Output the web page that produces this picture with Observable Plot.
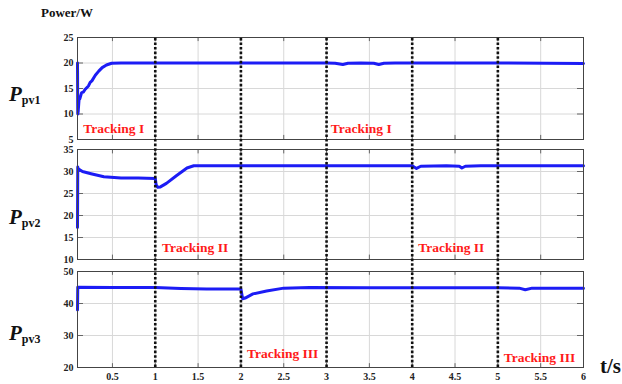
<!DOCTYPE html>
<html><head><meta charset="utf-8">
<script src="https://cdn.jsdelivr.net/npm/d3@7"></script>
<script src="https://cdn.jsdelivr.net/npm/@observablehq/plot@0.6"></script>
<style>
body{margin:0;background:#fff;}
#wrap{position:relative;width:622px;height:384px;overflow:hidden;font-family:"Liberation Serif",serif;}
.abs{position:absolute;left:0;}
.lbl{position:absolute;font-weight:bold;color:#111;white-space:nowrap;}
.plab{position:absolute;font-weight:bold;color:#111;white-space:nowrap;font-size:21px;}
.plab i{font-style:italic;}
.plab sub{font-size:12px;font-style:normal;vertical-align:-3px;}
</style></head>
<body><div id="wrap"></div>
<script>
// ---- data ----
const t1 = [0.092,0.095,0.10,0.11,0.12,0.14,0.16,0.18,0.22,0.24,0.26,0.30,0.34,0.38,0.43,0.49,0.6,1.0,2.0,3.0,3.1,3.19,3.25,3.4,3.55,3.61,3.67,3.8,3.95,4.0,5.0,6.0];
const p1 = [20,10,10.5,12.8,13,14.2,14.3,14.8,15.5,16.2,16.5,17.6,18.4,19.1,19.6,19.95,20,20,20,20,19.95,19.7,19.95,20,19.95,19.7,19.95,20,20,20,20,19.9];
const t2 = [0.092,0.095,0.10,0.15,0.25,0.4,0.6,0.8,1.0,1.01,1.03,1.06,1.13,1.25,1.37,1.45,2,3,4.0,4.05,4.1,4.4,4.55,4.58,4.62,4.8,5,6];
const p2 = [17.3,31,30.6,30,29.5,28.8,28.5,28.5,28.4,27,26.4,26.5,27.3,29.1,30.8,31.3,31.3,31.3,31.3,30.7,31.2,31.3,31.2,30.8,31.2,31.3,31.3,31.3];
const t3 = [0.092,0.095,0.10,0.5,1.0,1.3,1.6,2.0,2.02,2.05,2.14,2.3,2.5,2.8,3.5,4.0,5.0,5.25,5.32,5.4,6];
const p3 = [38,45.1,45.1,45,45,44.7,44.5,44.5,41.5,41.7,43,43.9,44.8,45,44.9,44.9,44.9,44.8,44.3,44.8,44.8];
const xTicks = [0.5,1,1.5,2,2.5,3,3.5,4,4.5,5,5.5,6];
const yTicks1 = [5,10,15,20,25];
const yTicks2 = [10,15,20,25,30,35];
const yTicks3 = [20,30,40,50];
const switchTimes = [1,2,3,4,5];
const notes1 = [{t:0.16,v:7.1,s:"Tracking I"},{t:3.05,v:7.1,s:"Tracking I"}];
const notes2 = [{t:1.08,v:12.8,s:"Tracking II"},{t:4.07,v:12.8,s:"Tracking II"}];
const notes3 = [{t:2.07,v:24.4,s:"Tracking III"},{t:5.07,v:23.1,s:"Tracking III"}];
const panelNames = ["pv1","pv2","pv3"];

const wrap = document.getElementById("wrap");
const W = 622, ML = 77, MR = 39;
const xDomain = [0.092, 6];
const baseStyle = {fontFamily:"Liberation Serif, serif", fontWeight:"bold", fontSize:"10px", background:"transparent", overflow:"visible"};
const fmt = d => String(d);

function panel(ts, ps, yDom, yT, notes, top, h, mt, mb) {
  const data = ts.map((t,i)=>({t, v:ps[i]}));
  const marks = [
    Plot.gridX(xTicks, {stroke:"#d8d8d8", strokeOpacity:1}),
    Plot.gridY(yT, {stroke:"#d8d8d8", strokeOpacity:1}),
    Plot.axisY(yT, {tickSize:0, tickPadding:4, fontSize:10, fill:"#222", label:null, tickFormat:fmt}),
    Plot.ruleX(xTicks, {x:d=>d, y1: yDom[1], y2: yDom[1]-(yDom[1]-yDom[0])*0.04, stroke:"#666"}),
    Plot.ruleX(xTicks, {x:d=>d, y1: yDom[0], y2: yDom[0]+(yDom[1]-yDom[0])*0.04, stroke:"#666"}),
    Plot.ruleY(yT, {y:d=>d, x1: xDomain[1], x2: xDomain[1]-0.07, stroke:"#666"}),
    Plot.ruleY(yT, {y:d=>d, x1: xDomain[0], x2: xDomain[0]+0.07, stroke:"#666"}),
    Plot.line(data, {x:"t", y:"v", stroke:"#1c1cf5", strokeWidth:3, curve:"linear"}),
    Plot.text(notes, {x:"t", y:"v", text:"s", textAnchor:"start", fill:"#ff1a1a", fontSize:13.5, fontWeight:"bold", fontFamily:"Liberation Serif, serif"}),
    Plot.frame({stroke:"#444", strokeWidth:1})
  ];
  const svg = Plot.plot({
    width: W, height: h, marginLeft: ML, marginRight: MR, marginTop: mt, marginBottom: mb,
    x: {domain: xDomain, axis: null},
    y: {domain: yDom, axis: null},
    style: baseStyle,
    marks
  });
  svg.classList.add("abs");
  svg.style.top = top + "px";
  wrap.appendChild(svg);
}

panel(t1, p1, [5,25], yTicks1, notes1, 27, 122, 10, 10);
panel(t2, p2, [10,35], yTicks2, notes2, 139, 130, 10, 10);
panel(t3, p3, [20,50], yTicks3, notes3, 261, 123, 10, 17);

// vertical switching lines across all panels + shared time axis
const ov = Plot.plot({
  width: W, height: 384, marginLeft: ML, marginRight: MR, marginTop: 37, marginBottom: 17,
  x: {domain: xDomain, axis: null},
  y: {domain: [0,1], axis: null},
  style: baseStyle,
  marks: [
    Plot.ruleX(switchTimes, {x:d=>d, y1:0, y2:1, stroke:"#111", strokeWidth:2.6, strokeDasharray:"2.6,2"}),
    Plot.axisX(xTicks, {tickSize:0, tickPadding:5, fontSize:10, fill:"#222", label:null, tickFormat:fmt})
  ]
});
ov.classList.add("abs");
ov.style.top = "0px";
wrap.appendChild(ov);

// labels
function addLabel(cls, html, left, top, size) {
  const d = document.createElement("div");
  d.className = cls; d.innerHTML = html;
  d.style.left = left + "px"; d.style.top = top + "px";
  if (size) d.style.fontSize = size + "px";
  wrap.appendChild(d);
}
addLabel("lbl", "Power/W", 41, 5, 13);
const labTops = [82, 205, 321];
panelNames.forEach((n,i)=> addLabel("plab", "<i>P</i><sub>" + n + "</sub>", 9, labTops[i]));
addLabel("lbl", "t/s", 600, 354, 21);
</script></body></html>
